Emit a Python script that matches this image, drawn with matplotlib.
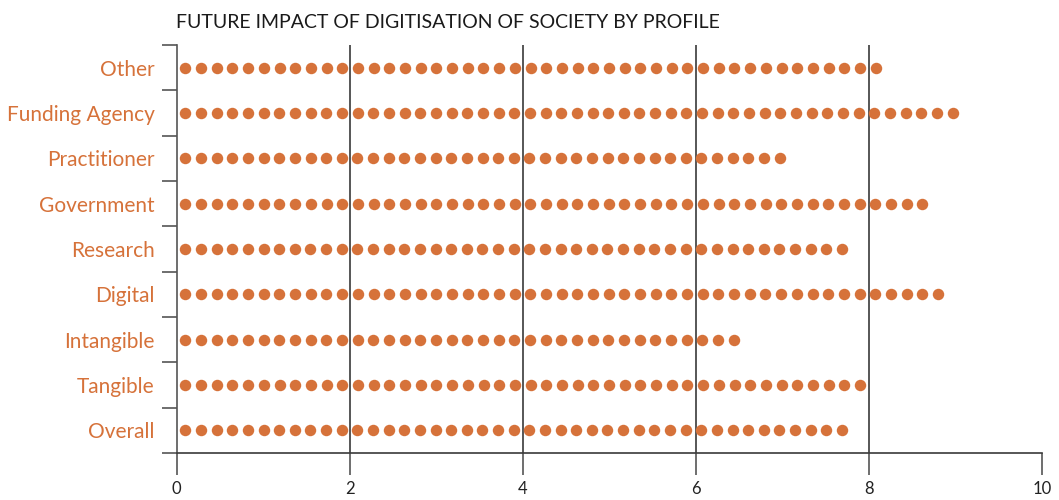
import numpy as np
import matplotlib
matplotlib.use("Agg")
import matplotlib.pyplot as plt

# categories top to bottom, as in the picture
profiles = ['Other', 'Funding Agency', 'Practitioner', 'Government', 'Research',
            'Digital', 'Intangible', 'Tangible', 'Overall']
impact = [8.08, 8.97, 6.97, 8.62, 7.69, 8.80, 6.44, 7.90, 7.69]
x_ticks = [0, 2, 4, 6, 8, 10]

orange = '#D6723A'
line_col = '#3a3a3a'

plt.rcParams['font.family'] = ['Lato', 'DejaVu Sans']

fig = plt.figure(figsize=(10.59, 5.0), dpi=100)
ax = fig.add_axes([0.1669, 0.094, 0.8168, 0.816])

n = len(profiles)
ypos = np.arange(n)[::-1]

# each bar drawn as a row of dots
start = 0.1
step = 0.181
for y, v in zip(ypos, impact):
    k = int(round((v - start) / step)) + 1
    xs = np.linspace(start, v, k)
    ax.scatter(xs, np.full(k, y), s=68, color=orange, linewidths=0, zorder=3)

# vertical grid lines
for g in [2, 4, 6, 8]:
    ax.axvline(g, color=line_col, lw=1.2, zorder=1)

ax.set_xlim(0, 10)
ax.set_ylim(-0.5, n - 0.5)

for s in ['top', 'right']:
    ax.spines[s].set_visible(False)
ax.spines['left'].set_color('#555555')
ax.spines['left'].set_linewidth(1.2)
ax.spines['bottom'].set_color(line_col)
ax.spines['bottom'].set_linewidth(1.2)

ax.set_xticks(x_ticks)
ax.set_xticklabels([str(t) for t in x_ticks], fontsize=12, color='#222222')
ax.tick_params(axis='x', length=16, width=1.2, color='#555555', pad=4)

# boundaries as major ticks, names on minor ticks
ax.set_yticks(np.arange(-0.5, n, 1.0))
ax.set_yticklabels([])
ax.tick_params(axis='y', which='major', length=11, width=1.2, color='#555555')
ax.set_yticks(ypos, minor=True)
ax.set_yticklabels(profiles, minor=True, fontsize=15, color=orange)
ax.tick_params(axis='y', which='minor', length=0, pad=16)

fig.text(0.1665, 0.955, 'FUTURE IMPACT OF DIGITISATION OF SOCIETY BY PROFILE',
         fontsize=14, color='#1a1a1a', va='center', ha='left')

fig.savefig('out.png', dpi=100)
